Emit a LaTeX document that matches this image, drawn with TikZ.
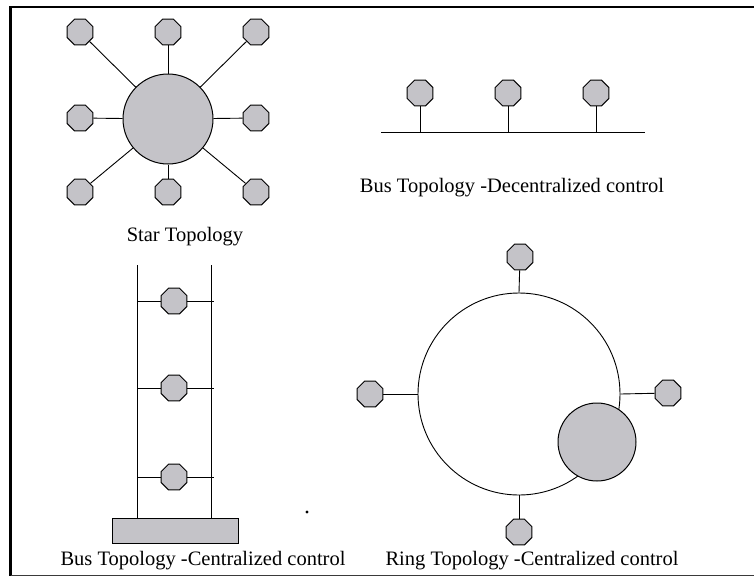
\documentclass[tikz,border=0pt]{standalone}
\usepackage{fontspec}
\setmainfont{Liberation Serif}
\usetikzlibrary{positioning,shapes.geometric}
\definecolor{NodeGray}{HTML}{C4C3C8}
\definecolor{FrameGray}{HTML}{3A3A3A}

\begin{document}
\begin{tikzpicture}[x=1pt,y=-1pt,line width=0.9pt,
    every node/.style={font=\fontsize{20.5}{24}\selectfont},
    station/.style={regular polygon,regular polygon sides=8,minimum size=28pt,inner sep=0pt,draw,fill=NodeGray,line width=1pt},
    hub/.style={circle,draw,fill=NodeGray,inner sep=0pt,line width=1pt},
    caption/.style={anchor=base,inner sep=0pt}]
        \useasboundingbox (0,0) rectangle (754,579);
        \draw[line width=2.6pt] (760,7) -- (10.5,7) -- (10.5,576);
        \draw[FrameGray,line width=1.6pt] (10.5,575.5) -- (760,575.5);
        \node[hub,minimum size=90pt] (star) at (168,119) {};
        \foreach \name/\px/\py in {s1/80/32,s2/168/32,s3/256/32,s4/80/118,s5/256/118,s6/80/192,s7/168/192,s8/256/192}
          {\node[station] (\name) at (\px,\py) {};
           \draw (star) -- (\name);}
        \node[caption] (starcap) at (185,241) {Star Topology};
        \coordinate (busL) at (381,132);
        \coordinate (busR) at (645,132);
        \draw (busL) -- (busR);
        \foreach \name/\px in {b1/420,b2/508,b3/596}
          {\node[station] (\name) at (\px,93) {};
           \draw (\name.south) -- (\name |- busL);}
        \node[caption] (buscap) at (512,192) {Bus Topology -Decentralized control};
        \node[draw,fill=NodeGray,minimum width=126pt,minimum height=25pt,inner sep=0pt] (base) at (175,530.5) {};
        \coordinate (railA) at (137,265);
        \coordinate (railB) at (211,265);
        \draw (railA) -- (railA |- base.north);
        \draw (railB) -- (railB |- base.north);
        \foreach \name/\py in {c1/301,c2/388,c3/477}
          {\node[station] (\name) at (174,\py) {};
           \draw (\name.west) -- (\name -| railA);
           \draw (\name.east) -- ([xshift=3pt]\name -| railB);}
        \fill (307,512) circle[radius=1.6pt];
        \node[caption] (laddercap) at (203,565) {Bus Topology -Centralized control};
        \node[circle,draw,minimum size=202pt,inner sep=0pt] (ring) at (519,394) {};
        \node[station] (rN) at (520,257) {};
        \node[station] (rW) at (370,394) {};
        \node[station] (rE) at (668,393) {};
        \node[station] (rS) at (519,532) {};
        \draw (ring.north) -- (rN);
        \draw (ring.west) -- (rW);
        \draw (ring.east) -- (rE);
        \draw (ring.south) -- (rS);
        \node[hub,minimum size=78pt] (ringhub) at (597,442) {};
        \node[caption] (ringcap) at (532,565) {Ring Topology -Centralized control};
\end{tikzpicture}
\end{document}
